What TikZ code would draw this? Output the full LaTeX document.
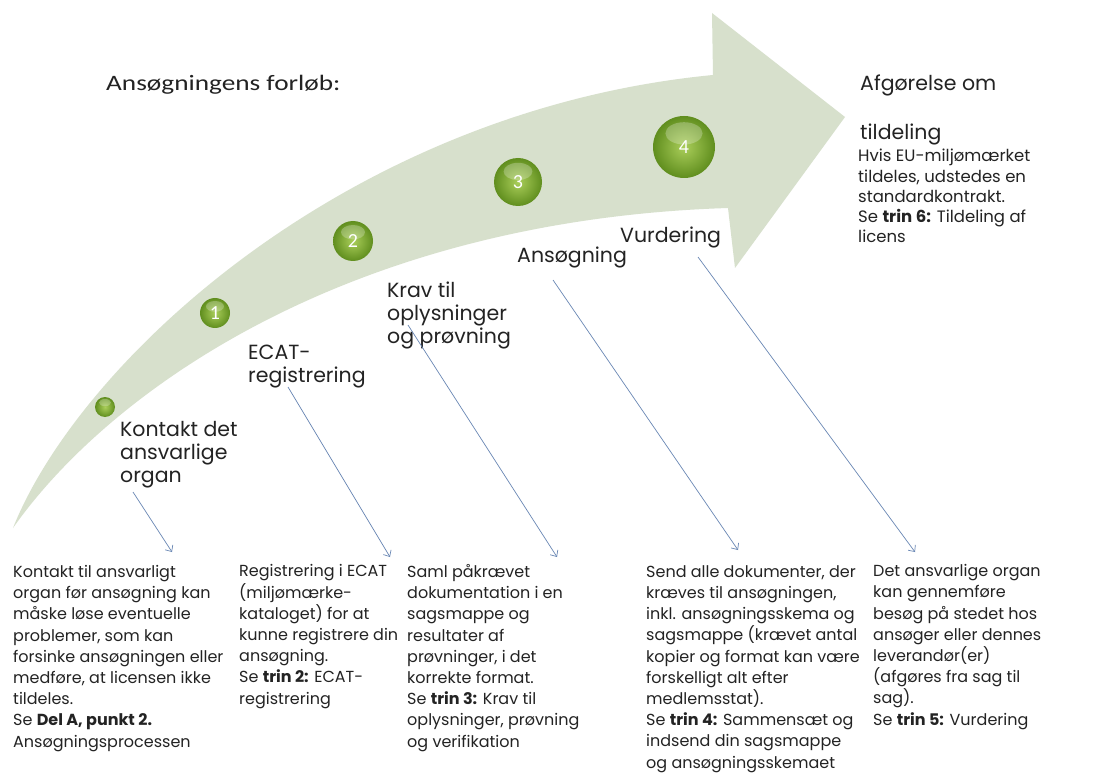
\documentclass[tikz,border=0pt]{standalone}
\usepackage{fontspec}
\setmainfont{Poppins}
\newfontfamily\headfont{Carlito}[FakeStretch=1.24]
\newfontfamily\digitfont{Carlito}
\usetikzlibrary{arrows.meta}

\definecolor{arrowgreen}{RGB}{215,224,204}
\definecolor{balldark}{RGB}{96,142,30}
\definecolor{balllight}{RGB}{170,206,90}
\definecolor{linkblue}{RGB}{105,135,180}
\definecolor{txtgrey}{RGB}{35,35,35}

\tikzset{
  steplabel/.style={anchor=base west, align=left, inner sep=0pt, text=txtgrey,
    font=\fontsize{20.5}{23}\selectfont},
  desc/.style={anchor=base west, align=left, inner sep=0pt, text=txtgrey,
    font=\fontsize{16}{21.2}\selectfont},
  stepball/.style={circle, inner sep=0pt, shading=radial, inner color=balllight,
    outer color=balldark, text=white, font=\digitfont\fontsize{20}{20}\selectfont},
  link/.style={draw=linkblue, line width=0.7pt, -{Straight Barb[length=5pt,width=9pt]}},
}

\begin{document}
\begin{tikzpicture}[x=1pt,y=-1pt]
\useasboundingbox (0,0) rectangle (1104,778);
\fill[white] (0,0) rectangle (1104,778);

\fill[arrowgreen] (13,528) .. controls (80,360) and (350,110) .. (713,75)
  -- (712,13) -- (845,117) -- (735,268) -- (728,208)
  .. controls (350,220) and (110,390) .. (13,528) -- cycle;

\foreach \n/\x/\y/\d/\t in {0/105/407/20/{}, 1/215/313/30/1, 2/353/241/40/2, 3/518/182/48/3, 4/684/147/62/4}{
  \node[stepball, minimum size=\d pt] (ball\n) at (\x,\y) {\t};
  \fill[white, opacity=0.25] (\x,\y-0.22*\d) ellipse (0.3*\d*1pt and 0.18*\d*1pt);
}

\node[anchor=base west, text=txtgrey, inner sep=0pt, font=\headfont\fontsize{22}{22}\selectfont] (title) at (106,91) {Ansøgningens forløb:};

% anchors sit on the last baseline of each text
\node[steplabel] (kontakt) at (120,482) {Kontakt det\\ansvarlige\\organ};
\node[steplabel] (ecat) at (248,382) {ECAT-\\registrering};
\node[steplabel] (krav) at (387,343) {Krav til\\oplysninger\\og prøvning};
\node[steplabel] (ansog) at (517,263) {Ansøgning};
\node[steplabel] (vurd) at (620,243) {Vurdering};

\node[steplabel] (afg) at (860,91) {Afgørelse om};
\node[steplabel] (tild) at (860,140) {tildeling};
\node[desc, font=\fontsize{16.5}{20.3}\selectfont] (afgdesc) at (858,243) {Hvis EU-miljømærket\\tildeles, udstedes en\\standardkontrakt.\\Se \textbf{trin 6:} Tildeling af\\licens};

\node[desc] (desc1) at (13,747) {Kontakt til ansvarligt\\organ før ansøgning kan\\måske løse eventuelle\\problemer, som kan\\forsinke ansøgningen eller\\medføre, at licensen ikke\\tildeles.\\Se \textbf{Del A, punkt 2.}\\Ansøgningsprocessen};
\node[desc] (desc2) at (239,704) {Registrering i ECAT\\(miljømærke-\\kataloget) for at\\kunne registrere din\\ansøgning.\\Se \textbf{trin 2:} ECAT-\\registrering};
\node[desc] (desc3) at (407,747) {Saml påkrævet\\dokumentation i en\\sagsmappe og\\resultater af\\prøvninger, i det\\korrekte format.\\Se \textbf{trin 3:} Krav til\\oplysninger, prøvning\\og verifikation};
\node[desc] (desc4) at (646,768) {Send alle dokumenter, der\\kræves til ansøgningen,\\inkl. ansøgningsskema og\\sagsmappe (krævet antal\\kopier og format kan være\\forskelligt alt efter\\medlemsstat).\\Se \textbf{trin 4:} Sammensæt og\\indsend din sagsmappe\\og ansøgningsskemaet};
\node[desc] (desc5) at (873,725) {Det ansvarlige organ\\kan gennemføre\\besøg på stedet hos\\ansøger eller dennes\\leverandør(er)\\(afgøres fra sag til\\sag).\\Se \textbf{trin 5:} Vurdering};

\coordinate (s1) at (133,492);
\coordinate (e1) at (172,552);
\coordinate (s2) at (288,387);
\coordinate (e2) at (390,557);
\coordinate (s3) at (408,325);
\coordinate (e3) at (557,557);
\coordinate (s4) at (553,280);
\coordinate (e4) at (738,550);
\coordinate (s5) at (698,257);
\coordinate (e5) at (915,552);
\foreach \i in {1,...,5}
  \draw[link] (s\i) -- (e\i);
\end{tikzpicture}
\end{document}
